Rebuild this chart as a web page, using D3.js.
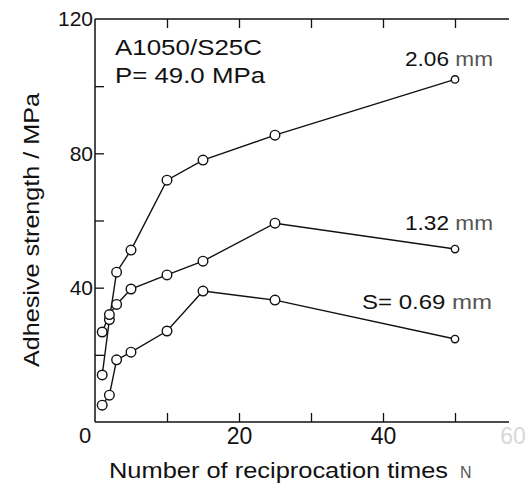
<!DOCTYPE html>
<html><head><meta charset="utf-8">
<script src="https://cdn.jsdelivr.net/npm/d3@7"></script>
<style>
html,body{margin:0;padding:0;background:#fff;overflow:hidden;}
text{font-family:"Liberation Sans",Arial,Helvetica,sans-serif;fill:#111;}
</style></head>
<body>
<svg id="chart" width="531" height="491"></svg>
<script>
// ---- data ----
const reciprocations = [1, 2, 3, 5, 10, 15, 25, 50];
const strength_206 = [14, 30.5, 44.6, 51.2, 72, 78, 85.4, 102];
const strength_132 = [26.8, 32, 35, 39.6, 43.8, 47.9, 59.2, 51.5];
const strength_069 = [5, 8, 18.5, 20.8, 27.1, 39, 36.3, 24.7];
const seriesNames = ["2.06", "1.32", "S= 0.69"];
const xTickLabels = [20, 40, 60];
const yTickLabels = [0, 40, 80, 120];

const svg = d3.select("#chart");
const x = d3.scaleLinear().domain([0, 60]).range([95, 527]);
const y = d3.scaleLinear().domain([0, 120]).range([422, 19]);

const series = [strength_206, strength_132, strength_069].map((vals, i) => ({
  name: seriesNames[i],
  points: reciprocations.map((n, j) => ({n, v: vals[j]}))
}));

// frame lines (left, top, bottom)
const frame = svg.append("g").attr("stroke", "#111").attr("stroke-width", 1.5).attr("fill", "none");
frame.append("line").attr("x1", x(0)).attr("x2", x(0)).attr("y1", y(120)).attr("y2", y(0));
frame.append("line").attr("x1", x(0)).attr("x2", x(57.5)).attr("y1", y(0)).attr("y2", y(0));
frame.append("line").attr("x1", x(0)).attr("x2", x(57.5)).attr("y1", y(120)).attr("y2", y(120));

// bottom axis: inward ticks
const xAxis = d3.axisBottom(x).tickValues(d3.range(10, 60, 10)).tickSize(-9).tickPadding(6)
  .tickFormat(d => xTickLabels.includes(d) ? d : "");
const gx = svg.append("g").attr("transform", `translate(0,${y(0)})`).call(xAxis);
gx.select(".domain").remove();
gx.selectAll(".tick line").attr("stroke", "#111").attr("stroke-width", 1.3);
gx.selectAll(".tick text").style("font-size", "23px").attr("fill", "#111");
// faded 60 label
gx.append("text").attr("x", x(60) - 14).attr("y", 6).attr("dy", "0.71em")
  .attr("text-anchor", "middle").style("font-size", "23px").style("fill", "#d8d8d8").text(xTickLabels[2]);

// top ticks
const xTop = d3.axisTop(x).tickValues(d3.range(10, 60, 10)).tickSize(-9).tickFormat("");
const gt = svg.append("g").attr("transform", `translate(0,${y(120)})`).call(xTop);
gt.select(".domain").remove();
gt.selectAll(".tick line").attr("stroke", "#111").attr("stroke-width", 1.3);

// left axis: inward ticks
const yAxis = d3.axisLeft(y).tickValues(d3.range(0, 121, 20)).tickSize(-9).tickPadding(2)
  .tickFormat(d => yTickLabels.includes(d) ? d : "");
const gy = svg.append("g").attr("transform", `translate(${x(0)},0)`).call(yAxis);
gy.select(".domain").remove();
gy.selectAll(".tick line").attr("stroke", "#111").attr("stroke-width", 1.3);
gy.selectAll(".tick").filter(d => d === 0 || d === 120).select("line").remove();
gy.selectAll(".tick text").style("font-size", "21px").attr("fill", "#111");
// the shared origin label sits below-left of the corner
gy.selectAll(".tick").filter(d => d === 0).select("text")
  .attr("x", -10).attr("dy", "0.95em").attr("text-anchor", "middle").style("font-size", "22px");

// lines
const line = d3.line().x(d => x(d.n)).y(d => y(d.v));
svg.append("g").selectAll("path").data(series).join("path")
  .attr("d", d => line(d.points)).attr("fill", "none").attr("stroke", "#111").attr("stroke-width", 1.4);

// markers
svg.append("g").selectAll("g").data(series).join("g")
  .selectAll("circle").data(d => d.points).join("circle")
  .attr("cx", d => x(d.n)).attr("cy", d => y(d.v))
  .attr("r", (d, i) => i === reciprocations.length - 1 ? 3.7 : 4.8)
  .attr("fill", "#fff").attr("stroke", "#111").attr("stroke-width", 1.4);

// axis titles
svg.append("text").attr("transform", "translate(39,230) rotate(-90)")
  .attr("text-anchor", "middle").style("font-size", "22px")
  .attr("textLength", 274).attr("lengthAdjust", "spacingAndGlyphs")
  .text("Adhesive strength / MPa");
svg.append("text").attr("x", 109).attr("y", 478).style("font-size", "22px")
  .attr("textLength", 339).attr("lengthAdjust", "spacingAndGlyphs")
  .text("Number of reciprocation times");
svg.append("text").attr("x", 460).attr("y", 478).style("font-size", "16px").style("fill", "#555").text("N");

// annotation
svg.append("text").attr("x", 115).attr("y", 55).style("font-size", "22px")
  .attr("textLength", 147).attr("lengthAdjust", "spacingAndGlyphs").text("A1050/S25C");
svg.append("text").attr("x", 115).attr("y", 83).style("font-size", "22px")
  .attr("textLength", 150).attr("lengthAdjust", "spacingAndGlyphs").text("P= 49.0 MPa");

// series labels
const labelPos = [[405, 66, 88], [405, 230, 88], [362, 309, 130]];
series.forEach((s, i) => {
  const t = svg.append("text").attr("x", labelPos[i][0]).attr("y", labelPos[i][1])
    .style("font-size", "20px").attr("textLength", labelPos[i][2]).attr("lengthAdjust", "spacingAndGlyphs");
  t.append("tspan").text(s.name + " ");
  t.append("tspan").style("fill", "#555").text("mm");
});
</script>
</body></html>
